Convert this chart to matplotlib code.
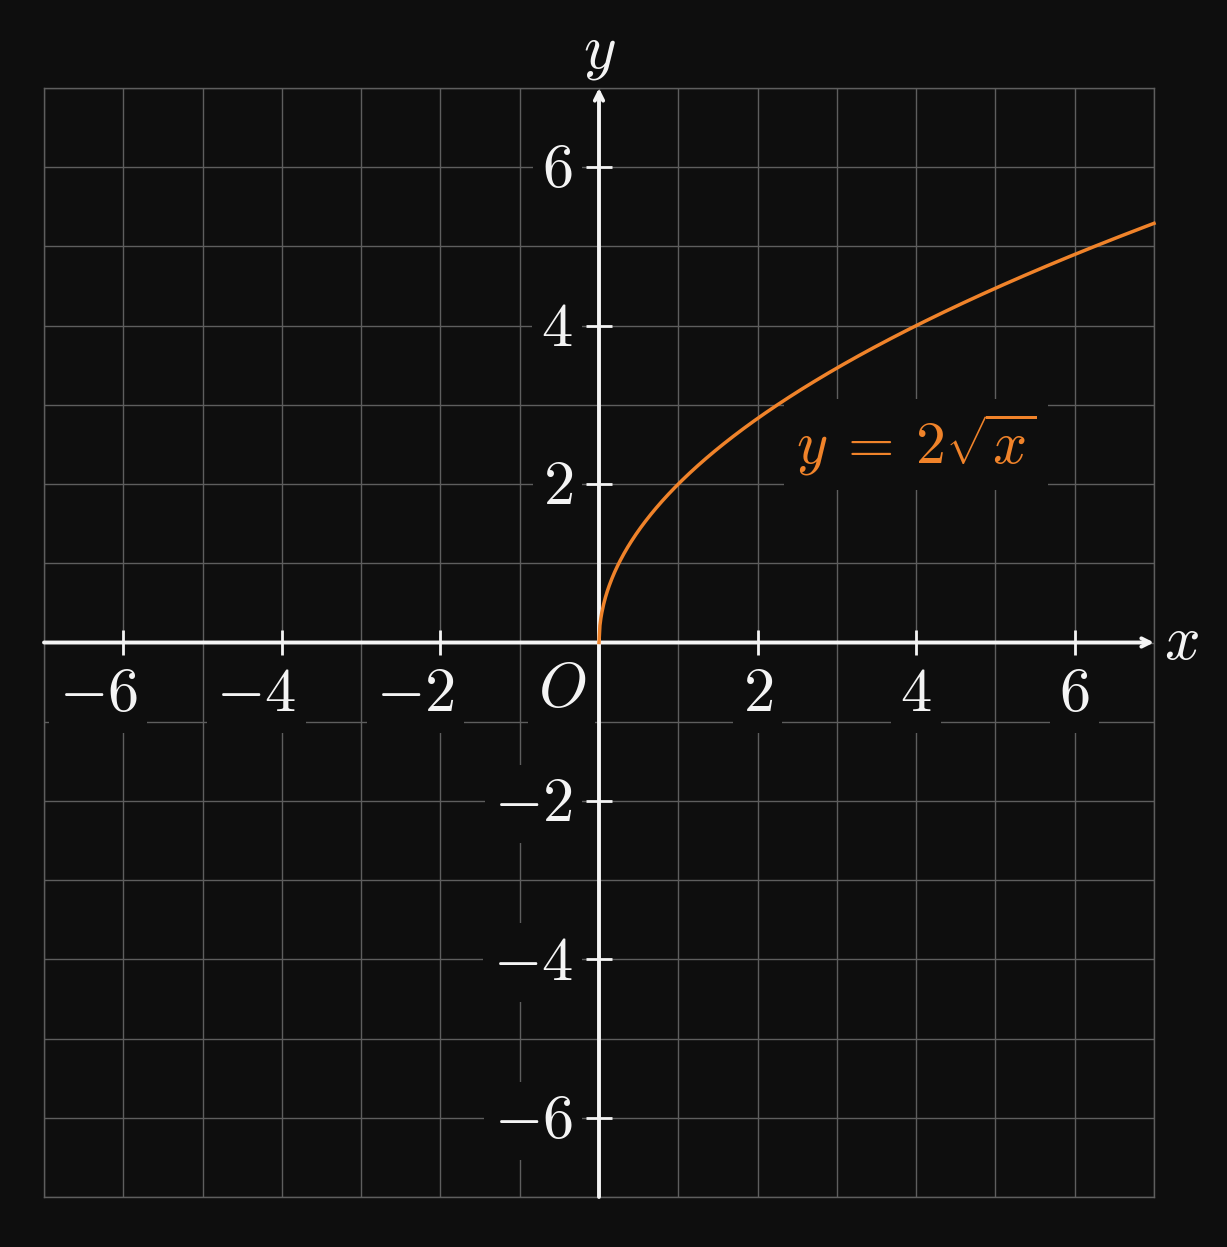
import numpy as np
import matplotlib
matplotlib.use('Agg')
import matplotlib.pyplot as plt

plt.rcParams['mathtext.fontset'] = 'cm'

# data
x_ticks = [-6, -4, -2, 2, 4, 6]
y_ticks = [-6, -4, -2, 2, 4, 6]
x_curve = np.linspace(0, 7, 600)
y_curve = 2 * np.sqrt(x_curve)

bg = '#0e0e0e'
grid_c = '#5e5e5e'
fg = '#f4f4f4'
orange = '#f0832a'

fig = plt.figure(figsize=(12.27, 12.47), dpi=100, facecolor=bg)
ax = fig.add_axes([44 / 1227, 50 / 1247, 1110 / 1227, 1109 / 1247])
ax.set_facecolor(bg)
ax.set_xlim(-7, 7)
ax.set_ylim(-7, 7)

# grid
ax.set_xticks(np.arange(-7, 8, 1))
ax.set_yticks(np.arange(-7, 8, 1))
ax.grid(True, color=grid_c, lw=1.0, zorder=0)
ax.tick_params(length=0, labelbottom=False, labelleft=False)
for s in ax.spines.values():
    s.set_color(grid_c)
    s.set_linewidth(1.0)

# axes with arrows
arr = dict(arrowstyle='->,head_length=0.6,head_width=0.3', color=fg, lw=2.8,
           shrinkA=0, shrinkB=0)
ax.annotate('', xy=(7, 0), xytext=(-7, 0), arrowprops=arr, zorder=4)
ax.annotate('', xy=(0, 7), xytext=(0, -7), arrowprops=arr, zorder=4)

# tick marks
tk = 0.16
for t in x_ticks:
    ax.plot([t, t], [-tk, tk], color=fg, lw=2, zorder=4, solid_capstyle='butt')
for t in y_ticks:
    ax.plot([-tk, tk], [t, t], color=fg, lw=2, zorder=4, solid_capstyle='butt')

box = dict(boxstyle='square,pad=0.15', fc=bg, ec='none')
fs = 45
for t in x_ticks:
    if t < 0:
        ax.text(t + 0.18, -0.65, r'$%d$' % t, ha='right', va='center', fontsize=fs,
                color=fg, bbox=box, zorder=3)
    else:
        ax.text(t, -0.65, r'$%d$' % t, ha='center', va='center', fontsize=fs,
                color=fg, bbox=box, zorder=3)
for t in y_ticks:
    ax.text(-0.33, t - 0.04, r'$%d$' % t, ha='right', va='center', fontsize=fs,
            color=fg, bbox=box, zorder=3)
ax.text(-0.47, -0.6, r'$O$', ha='center', va='center', fontsize=fs, color=fg,
        bbox=box, zorder=3)

# axis names
ax.text(0, 7.45, r'$y$', ha='center', va='center', fontsize=fs, color=fg,
        clip_on=False)
ax.text(7.35, 0, r'$x$', ha='center', va='center', fontsize=fs, color=fg,
        clip_on=False)

# curve
ax.plot(x_curve, y_curve, color=orange, lw=2.5, zorder=5, clip_on=False)
ax.text(4.0, 2.5, r'$y\:=\:2\sqrt{x}$', ha='center', va='center', fontsize=43,
        color=orange, bbox=dict(boxstyle='square,pad=0.2', fc=bg, ec='none'),
        zorder=3)

fig.savefig('out.png', dpi=100, facecolor=bg)
